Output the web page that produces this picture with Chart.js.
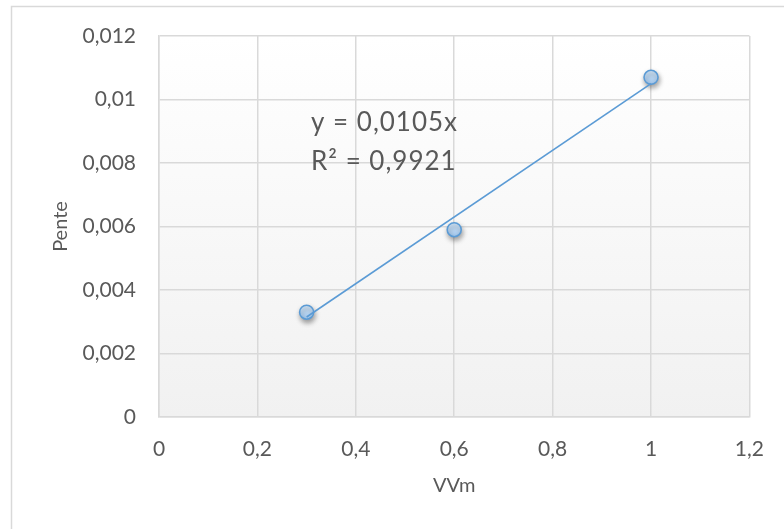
<!DOCTYPE html>
<html>
<head>
<meta charset="utf-8">
<script src="https://cdn.jsdelivr.net/npm/chart.js@4/dist/chart.umd.min.js"></script>
<style>
  html, body { margin: 0; padding: 0; background: #ffffff; }
  #wrap { width: 784px; height: 529px; position: relative; }
</style>
</head>
<body>
<div id="wrap"><canvas id="c" width="784" height="529"></canvas></div>
<script>
// ---- data ----
const vvm = [0.3, 0.6, 1];
const pente = [0.0033, 0.0059, 0.0107];
const trendSlope = 0.0105;
const trendX = [0.3, 1];
const xTickValues = [0, 0.2, 0.4, 0.6, 0.8, 1, 1.2];
const xTickLabels = ['0', '0,2', '0,4', '0,6', '0,8', '1', '1,2'];
const yTickValues = [0, 0.002, 0.004, 0.006, 0.008, 0.01, 0.012];
const yTickLabels = ['0', '0,002', '0,004', '0,006', '0,008', '0,01', '0,012'];
const equationLines = ['y = 0,0105x', 'R\u00B2 = 0,9921'];
const xTitle = 'VVm';
const yTitle = 'Pente';

const FONT = 'Lato, Carlito, Calibri, sans-serif';
const TXT = '#595959';
const GRID = '#d9d9d9';
const BLUE = '#5b9bd5';

const scatterPts = vvm.map((x, i) => ({x, y: pente[i]}));
const trendPts = trendX.map(x => ({x, y: trendSlope * x}));

const decor = {
  id: 'decor',
  beforeDraw(chart) {
    const ctx = chart.ctx, a = chart.chartArea;
    ctx.save();
    ctx.fillStyle = '#ffffff';
    ctx.fillRect(0, 0, chart.width, chart.height);
    ctx.strokeStyle = GRID;
    ctx.lineWidth = 1.5;
    ctx.strokeRect(11.5, 6.5, 900, 700);
    const g = ctx.createLinearGradient(0, a.top, 0, a.bottom);
    g.addColorStop(0, '#ffffff');
    g.addColorStop(1, '#f1f1f1');
    ctx.fillStyle = g;
    ctx.fillRect(a.left, a.top, a.right - a.left, a.bottom - a.top);
    ctx.restore();
  },
  beforeDatasetDraw(chart, args) {
    if (args.index === 1) {
      const ctx = chart.ctx;
      ctx.save();
      ctx.shadowColor = 'rgba(0,0,0,0.35)';
      ctx.shadowBlur = 5;
      ctx.shadowOffsetX = 1;
      ctx.shadowOffsetY = 3;
    }
  },
  afterDatasetDraw(chart, args) {
    if (args.index === 1) chart.ctx.restore();
  },
  afterDraw(chart) {
    const ctx = chart.ctx;
    ctx.save();
    ctx.fillStyle = TXT;
    ctx.font = '26px ' + FONT;
    ctx.textAlign = 'left';
    ctx.textBaseline = 'alphabetic';
    try { ctx.letterSpacing = '1px'; } catch (e) {}
    ctx.fillText(equationLines[0], 311, 131);
    ctx.fillText(equationLines[1], 311, 170);
    ctx.restore();
  }
};

function pointFill(context) {
  const chart = context.chart;
  const el = context.element;
  if (!el || el.x === undefined) return '#b4d3f2';
  const g = chart.ctx.createLinearGradient(0, el.y - 7, 0, el.y + 7);
  g.addColorStop(0, '#d3e6f8');
  g.addColorStop(1, '#a3c8ee');
  return g;
}

new Chart(document.getElementById('c'), {
  type: 'scatter',
  data: {
    datasets: [
      {
        type: 'line',
        data: trendPts,
        borderColor: BLUE,
        borderWidth: 1.6,
        pointRadius: 0,
        fill: false,
        tension: 0
      },
      {
        data: scatterPts,
        pointRadius: 7,
        pointBorderWidth: 1.6,
        pointBorderColor: BLUE,
        pointBackgroundColor: pointFill,
        backgroundColor: '#b4d3f2',
        borderColor: BLUE
      }
    ]
  },
  plugins: [decor],
  options: {
    responsive: false,
    animation: false,
    devicePixelRatio: 1,
    layout: { padding: { left: 0, right: 33, top: 36, bottom: 0 } },
    plugins: { legend: { display: false }, tooltip: { enabled: false } },
    scales: {
      x: {
        type: 'linear',
        min: 0, max: 1.2,
        afterBuildTicks(s) { s.ticks = xTickValues.map(v => ({value: v})); },
        afterFit(s) { s.height = 112; },
        grid: { color: GRID, lineWidth: 1.5, drawTicks: false },
        border: { color: GRID, width: 1.5 },
        ticks: {
          padding: 20,
          color: TXT,
          font: { family: FONT, size: 21 },
          maxRotation: 0,
          callback(v, i) { return xTickLabels[i]; }
        },
        title: {
          display: true, text: xTitle, color: TXT,
          font: { family: FONT, size: 20 },
          padding: { top: 0, bottom: 31 }
        }
      },
      y: {
        type: 'linear',
        min: 0, max: 0.012,
        afterBuildTicks(s) { s.ticks = yTickValues.map(v => ({value: v})); },
        afterFit(s) { s.width = 159; },
        grid: { color: GRID, lineWidth: 1.5, drawTicks: false },
        border: { color: GRID, width: 1.5 },
        ticks: {
          padding: 23,
          color: TXT,
          font: { family: FONT, size: 21 },
          callback(v, i) { return yTickLabels[i]; }
        },
        title: {
          display: true, text: yTitle, color: TXT,
          font: { family: FONT, size: 20 },
          padding: { top: 49, bottom: 0 }
        }
      }
    }
  }
});
</script>
</body>
</html>
